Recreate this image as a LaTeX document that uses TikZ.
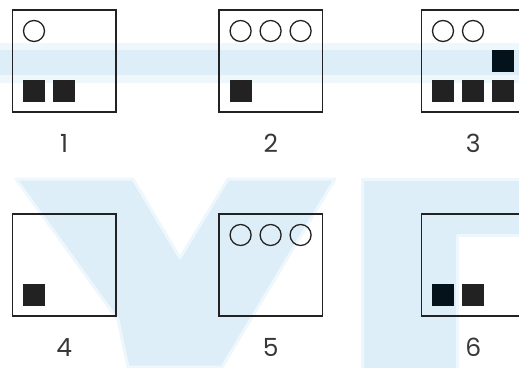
\documentclass[tikz,border=0pt]{standalone}
\usepackage{fontspec}
\setmainfont{Poppins}
\usetikzlibrary{positioning}

\definecolor{ink}{HTML}{222222}
\definecolor{inkdeep}{HTML}{04131B}
\definecolor{wmblue}{HTML}{DDEEF8}
\definecolor{wmpale}{HTML}{EEF7FC}

\tikzset{
  panel/.style={draw=ink, line width=1.6pt, minimum width=103.4pt, minimum height=102.4pt, inner sep=0pt},
  ring/.style={draw=ink, line width=1.3pt},
  blk/.style={fill=ink},
  blkdeep/.style={fill=inkdeep},
  lab/.style={font=\fontsize{25}{25}\selectfont, text=ink!90, inner sep=0pt},
  wm/.style={fill=wmblue, draw=wmpale, line width=3pt, line join=round}
}

\begin{document}
\begin{tikzpicture}[x=1pt, y=-1pt]
    \useasboundingbox (0,0) rectangle (519,367);
    \clip (0,0) rectangle (519,367);

    % --- Watermark (pale blue, behind everything) ---
    \fill[wmpale] (0,43) rectangle (519,83);
    \fill[wmblue] (0,50) rectangle (519,75);
    \filldraw[wm] (16,179) -- (133,179) -- (180,258) -- (228,179) -- (335,179)
                  -- (222,367) -- (128,367) -- (118,320) -- cycle;
    \filldraw[wm] (362,179) -- (525,179) -- (525,235) -- (457,235)
                  -- (457,375) -- (362,375) -- cycle;

    % --- Panels ---
    \node[panel] (p1) at (64.2,61) {};
    \node[panel] (p2) at (270.8,61) {};
    \node[panel] (p3) at (473.2,61) {};
    \node[panel] (p4) at (64.2,265) {};
    \node[panel] (p5) at (270.8,265) {};
    \node[panel] (p6) at (473.2,265) {};

    % --- Labels ---
    \node[lab, below=21pt of p1] (l1) {1};
    \node[lab, below=21pt of p2] (l2) {2};
    \node[lab, below=21pt of p3] (l3) {3};
    \node[lab, below=21pt of p4] (l4) {4};
    \node[lab, below=21pt of p5] (l5) {5};
    \node[lab, below=21pt of p6] (l6) {6};

    % Circles (top row of each panel)
    \draw[ring] ([shift={(22.3,22)}]p1.north west) circle (10.5);
    \foreach \dx in {22.3,52.3,82.3} {
      \draw[ring] ([shift={(\dx,22)}]p2.north west) circle (10.5);
      \draw[ring] ([shift={(\dx,22)}]p5.north west) circle (10.5);
    }
    \foreach \dx in {22.3,52.3}
      \draw[ring] ([shift={(\dx,22)}]p3.north west) circle (10.5);

    % Squares (bottom row of each panel)
    \fill[blk] ([shift={(11.3,71)}]p1.north west) rectangle +(22,22);
    \fill[blk] ([shift={(41.3,71)}]p1.north west) rectangle +(22,22);
    \fill[blk] ([shift={(11.3,71)}]p2.north west) rectangle +(22,22);
    \fill[blk] ([shift={(11.3,71)}]p3.north west) rectangle +(22,22);
    \fill[blk] ([shift={(41.3,71)}]p3.north west) rectangle +(22,22);
    \fill[blk] ([shift={(71.3,71)}]p3.north west) rectangle +(22,22);
    \fill[blkdeep] ([shift={(71.3,41)}]p3.north west) rectangle +(22,22);
    \fill[blk] ([shift={(11.3,71)}]p4.north west) rectangle +(22,22);
    \fill[blkdeep] ([shift={(11.3,71)}]p6.north west) rectangle +(22,22);
    \fill[blk] ([shift={(41.3,71)}]p6.north west) rectangle +(22,22);
\end{tikzpicture}
\end{document}
